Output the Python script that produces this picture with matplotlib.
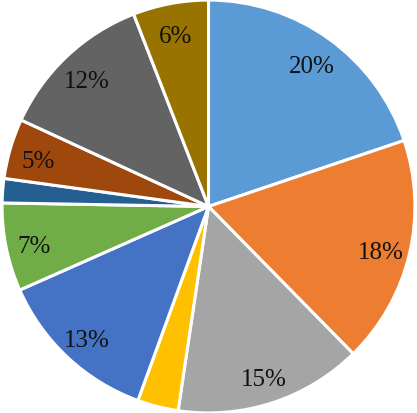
import matplotlib
matplotlib.use('Agg')
import matplotlib.pyplot as plt

# Parts du camembert, dans le sens horaire depuis le haut
valeurs = [19.8, 17.8, 14.7, 3.2, 12.8, 6.9, 1.9, 4.7, 12.2, 5.9]
couleurs = ['#5B9BD5', '#ED7D31', '#A5A5A5', '#FFC000', '#4472C4',
            '#70AD47', '#255E91', '#9E480E', '#636363', '#997300']


def etiquette(pct):
    # Excel n'affiche pas les petites parts
    if pct < 4:
        return ''
    return '{:.0f}%'.format(pct)


fig = plt.figure(figsize=(4.17, 4.13), dpi=100)
ax = fig.add_axes([0, 0, 1, 1])

wedges, textes, pcts = ax.pie(valeurs, colors=couleurs, startangle=90, counterclock=False,
                              autopct=etiquette, pctdistance=0.86, radius=1.0,
                              textprops={'family': 'Liberation Serif', 'size': 18, 'color': '#111111'},
                              wedgeprops={'edgecolor': 'white', 'linewidth': 2.2})

# petit decalage vers le bas des etiquettes, comme dans Excel
for t in pcts:
    x, y = t.get_position()
    t.set_position((x, y - 0.025))

ax.set_xlim(-1.01, 1.01)
ax.set_ylim(-1.0, 1.0)
ax.set_aspect('equal')
ax.axis('off')

fig.savefig('out.png', dpi=100)
